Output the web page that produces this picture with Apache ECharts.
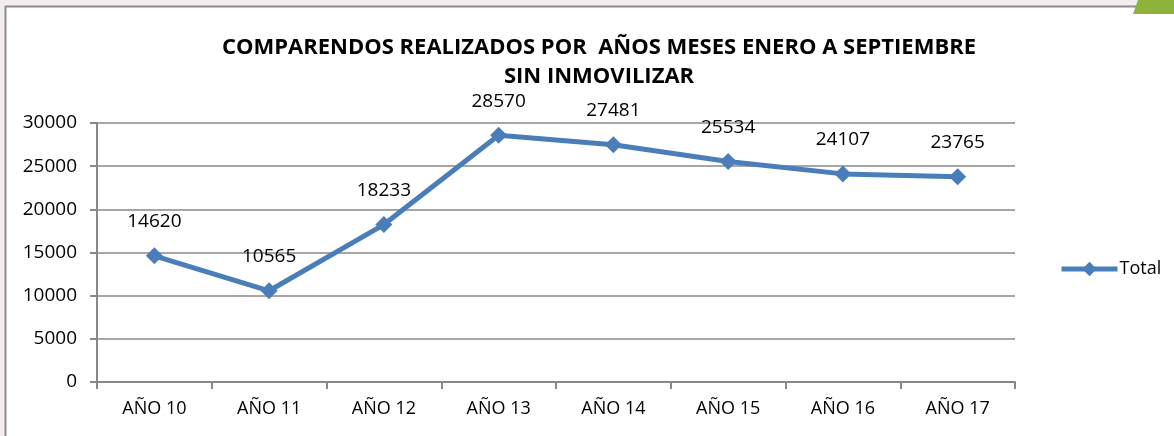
<!DOCTYPE html>
<html><head><meta charset="utf-8">
<script src="https://cdn.jsdelivr.net/npm/echarts@6/dist/echarts.min.js"></script>
<style>html,body{margin:0;padding:0;background:#f3eeed;}#c{width:1174px;height:436px;}</style>
</head><body><div id="c"></div>
<script>
const categories = ['AÑO 10','AÑO 11','AÑO 12','AÑO 13','AÑO 14','AÑO 15','AÑO 16','AÑO 17'];
const totalValues = [14620, 10565, 18233, 28570, 27481, 25534, 24107, 23765];
const yTicks = [0, 5000, 10000, 15000, 20000, 25000, 30000];
const chart = echarts.init(document.getElementById('c'));
const font = 'Open Sans, Liberation Sans, sans-serif';
chart.setOption({
  animation: false,
  backgroundColor: '#f3eeed',
  graphic: [
    {type:'rect', shape:{x:5.5,y:6.5,width:1180,height:440}, style:{fill:'#ffffff', stroke:'#8c8c8c', lineWidth:2}, z:-10},
    {type:'polygon', shape:{points:[[1138,0],[1174,0],[1174,14],[1133,14]]}, style:{fill:'#8db33a'}, z:-5}
  ],
  title: {
    text: 'COMPARENDOS REALIZADOS POR  AÑOS MESES ENERO A SEPTIEMBRE\nSIN INMOVILIZAR',
    left: 594, top: 28, textAlign: 'center',
    textStyle: {fontFamily: font, fontWeight: 'bold', fontSize: 22, color: '#000', lineHeight: 29}
  },
  legend: {
    data: ['Total'], left: 1054, top: 255, itemWidth: 56, itemHeight: 18, itemGap: 0,
    lineStyle: {width: 5},
    textStyle: {fontFamily: font, fontSize: 18, color: '#000', padding:[0,0,0,-3]}
  },
  grid: {left: 97, right: 159, top: 123, bottom: 54},
  xAxis: {
    type: 'category', data: categories, boundaryGap: true,
    axisLine: {lineStyle: {color: '#888', width: 2}},
    axisTick: {show: true, length: 7, lineStyle: {color: '#888', width: 2}},
    axisLabel: {fontFamily: font, fontSize: 18, color: '#000', margin: 18}
  },
  yAxis: {
    type: 'value', min: 0, max: 30000, interval: 5000,
    axisLine: {show: true, lineStyle: {color: '#888', width: 2}},
    axisTick: {show: true, length: 7, lineStyle: {color: '#888', width: 2}},
    splitLine: {lineStyle: {color: '#888', width: 1.5}},
    axisLabel: {fontFamily: font, fontSize: 19, color: '#000', margin: 20,
      formatter: v => yTicks.indexOf(v) >= 0 ? String(v) : ''}
  },
  series: [{
    name: 'Total', type: 'line', data: totalValues,
    symbol: 'diamond', symbolSize: 17,
    lineStyle: {color: '#4a7ebb', width: 5},
    itemStyle: {color: '#4a7ebb'},
    label: {show: true, position: 'top', distance: 16, fontFamily: font, fontSize: 19, color: '#000'}
  }]
});
</script></body></html>
